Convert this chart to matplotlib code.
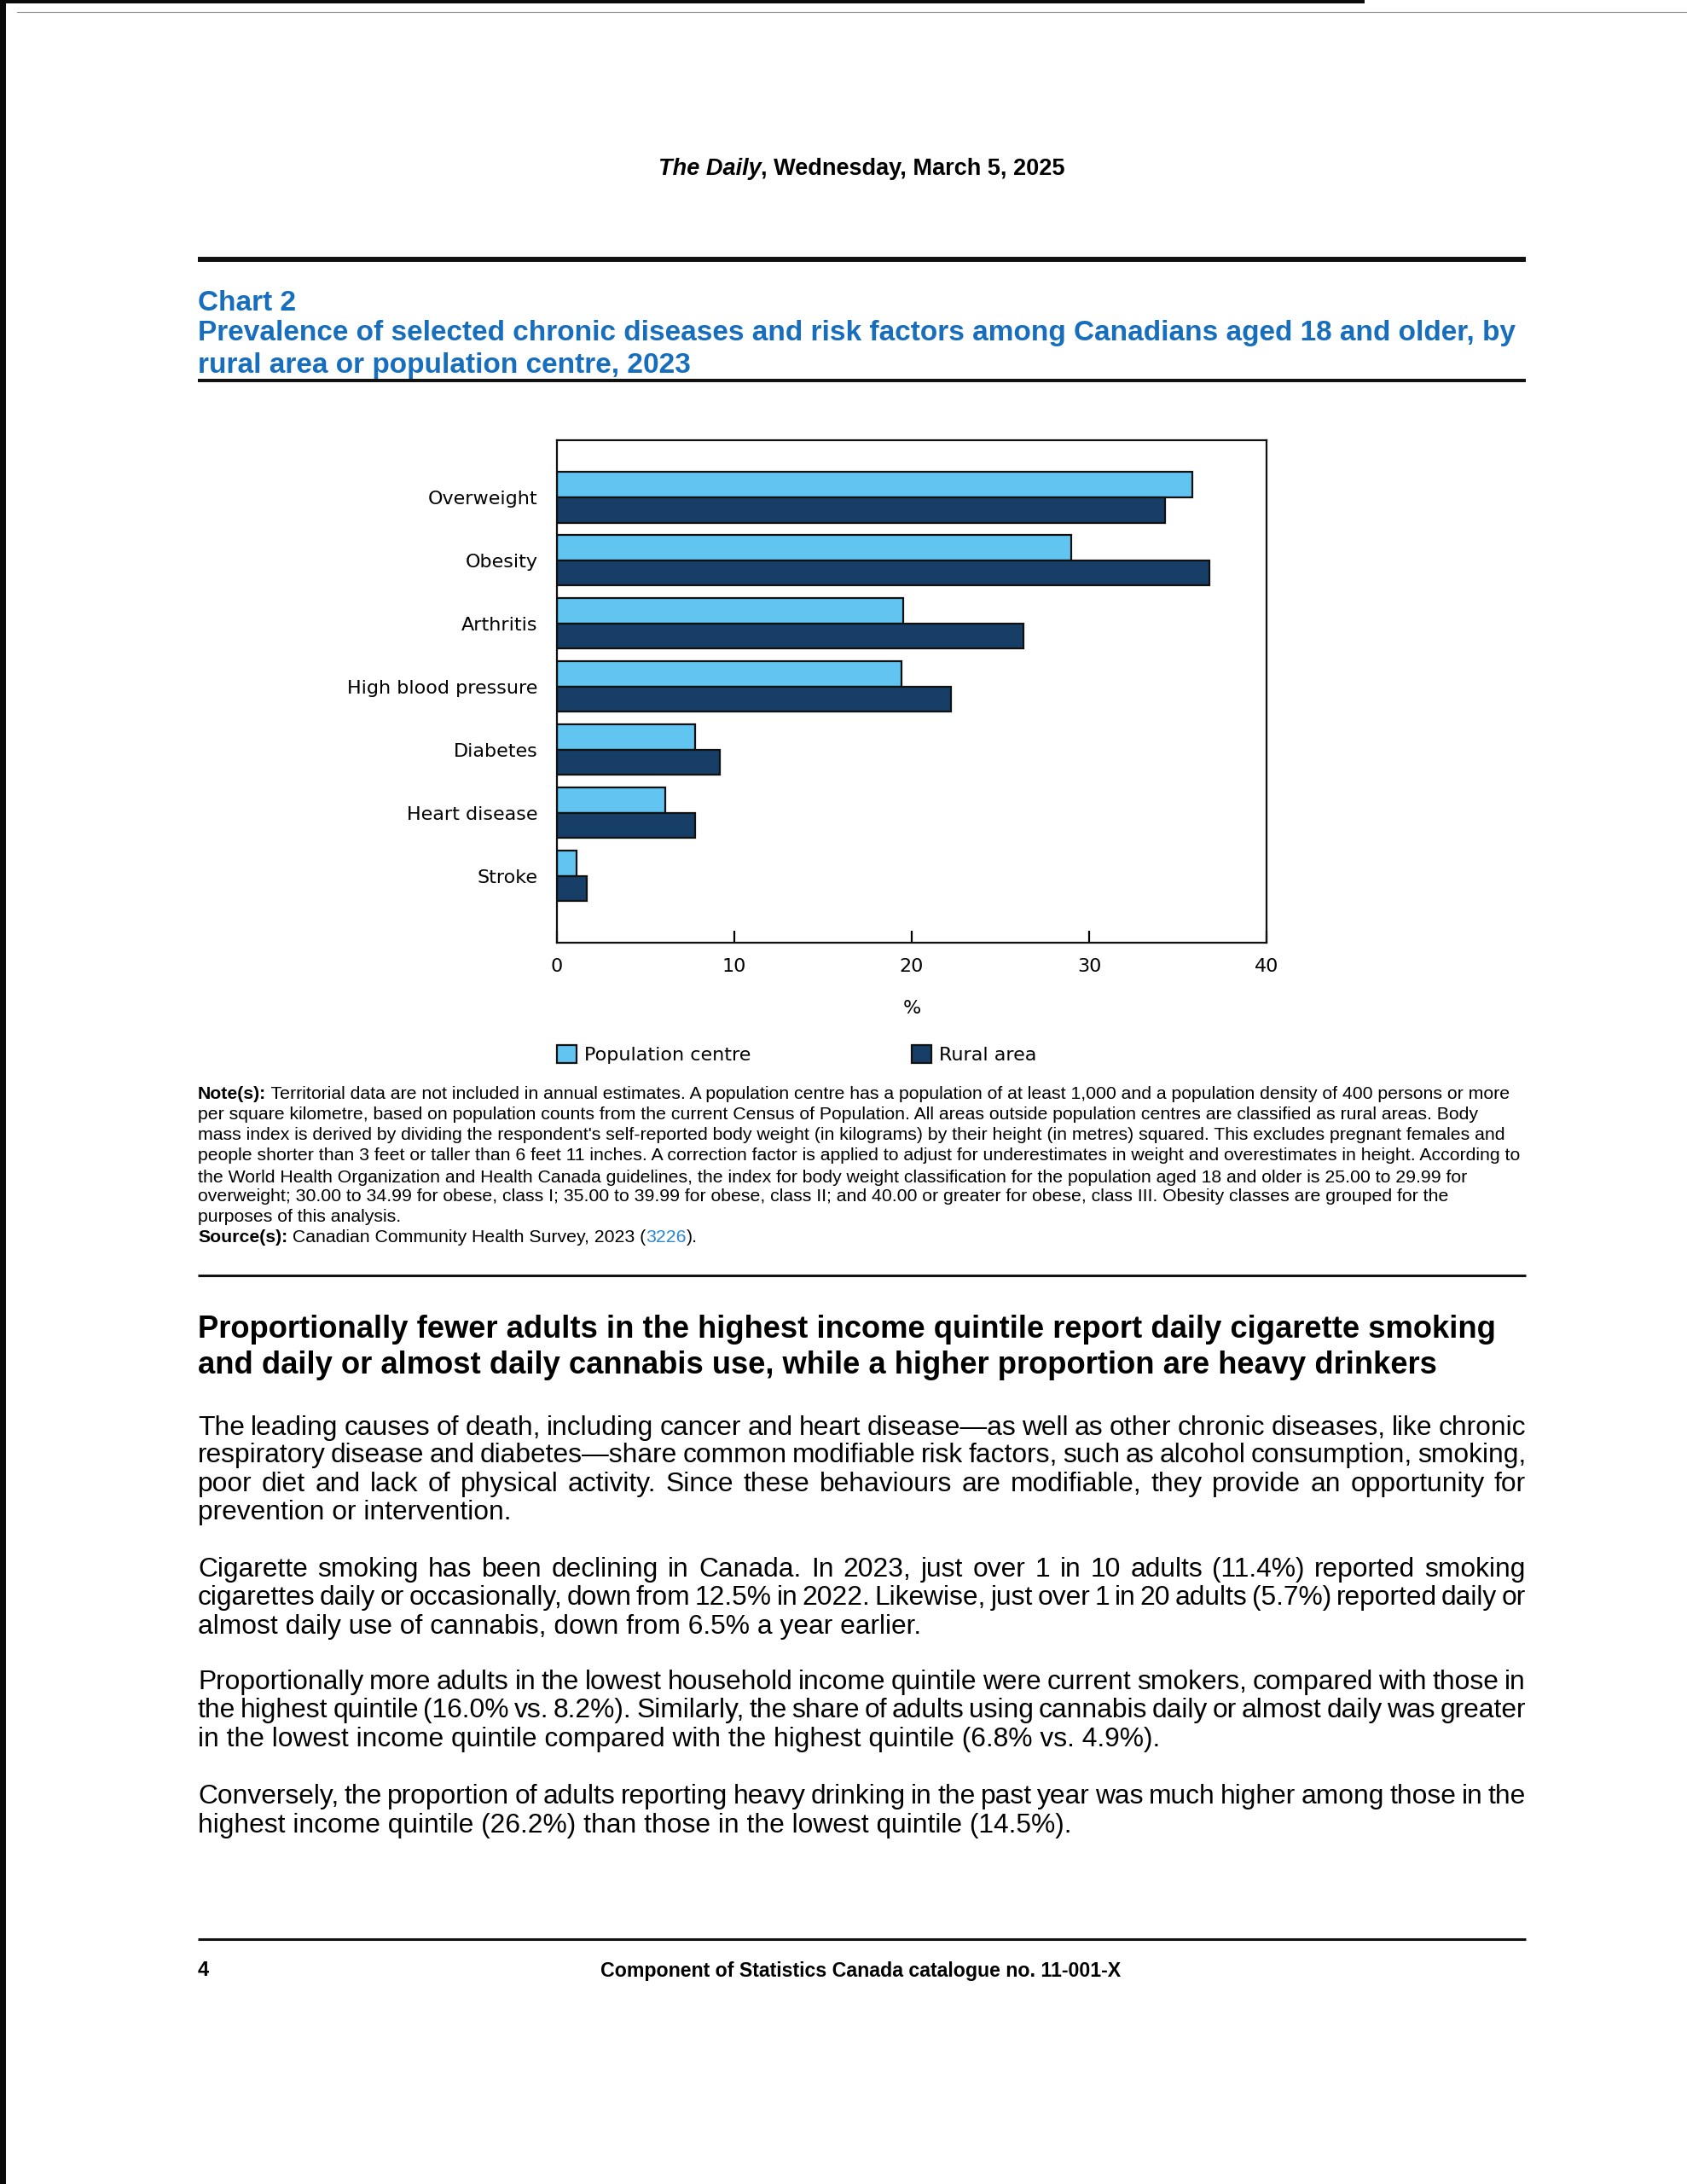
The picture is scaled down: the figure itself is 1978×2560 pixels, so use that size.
import numpy as np
import matplotlib
matplotlib.use("Agg")
import matplotlib.pyplot as plt
from matplotlib.patches import Rectangle
from matplotlib.lines import Line2D

# ---------------- data ----------------
categories = ["Overweight", "Obesity", "Arthritis", "High blood pressure",
              "Diabetes", "Heart disease", "Stroke"]
pop_centre = [35.8, 29.0, 19.5, 19.4, 7.8, 6.1, 1.1]
rural_area = [34.3, 36.8, 26.3, 22.2, 9.2, 7.8, 1.7]
series_names = ["Population centre", "Rural area"]
x_ticks = [0, 10, 20, 30, 40]

W, H = 1978, 2560
fig = plt.figure(figsize=(W / 100, H / 100), dpi=100)
fig.patch.set_facecolor("white")
R = fig.canvas.get_renderer()
DY = 4  # text vertical correction (px)


def X(px):
    return px / W


def Y(py):
    return 1 - py / H


def YT(py):
    return 1 - (py + DY) / H


def width_of(text, size, **kw):
    t = fig.text(0, 0, text, fontsize=size, **kw)
    w = t.get_window_extent(renderer=R).width
    t.remove()
    return w


def runs_width(runs, size):
    return sum(width_of(s, size, **kw) for s, kw in runs)


def draw_runs(x, y, runs, size):
    for s, kw in runs:
        fig.text(X(x), YT(y), s, fontsize=size, va="center", ha="left", **kw)
        x += width_of(s, size, **kw)


def fit(text, target, **kw):
    return 10 * target / width_of(text, 10, **kw)


def hrule(y, x0, x1, lw, color="#111111"):
    fig.add_artist(Line2D([X(x0), X(x1)], [Y(y), Y(y)], lw=lw, color=color,
                          solid_capstyle="butt"))


SANS = "Liberation Sans"

# ---------------- scan border ----------------
fig.add_artist(Rectangle((0, 0), X(7), 1, color="#0a0a0a", lw=0))
fig.add_artist(Rectangle((0, Y(4)), X(1600), 4 / H, color="#0a0a0a", lw=0))
fig.add_artist(Line2D([X(20), X(1978)], [Y(14), Y(14)], lw=0.8, color="#888888"))

# ---------------- header ----------------
hdr = [("The Daily", dict(family=SANS, weight="bold", style="italic")),
       (", Wednesday, March 5, 2025", dict(family=SANS, weight="bold"))]
hs = 10 * 477 / runs_width(hdr, 10)
draw_runs(1010 - 477 / 2, 194, hdr, hs)

hrule(304, 232, 1789, 4.3)

# ---------------- chart title ----------------
BLUE = "#176ebd"
t1 = "Prevalence of selected chronic diseases and risk factors among Canadians aged 18 and older, by"
ts = fit(t1, 1544, family=SANS, weight="bold")
for txt, yy in [("Chart 2", 351), (t1, 387), ("rural area or population centre, 2023", 424)]:
    fig.text(X(232), YT(yy), txt, fontsize=ts, family=SANS, weight="bold",
             color=BLUE, va="center", ha="left")
hrule(446, 232, 1789, 2.9)

# ---------------- chart ----------------
ax = fig.add_axes([X(653), Y(1105), (1485 - 653) / W, (1105 - 516) / H])
ypos = np.arange(len(categories))
b1 = ax.barh(ypos - 0.2, pop_centre, height=0.4, color="#62c5f1",
             edgecolor="#111111", lw=1.6, label=series_names[0])
b2 = ax.barh(ypos + 0.2, rural_area, height=0.4, color="#163e66",
             edgecolor="#111111", lw=1.6, label=series_names[1])
ax.set_xlim(0, 40)
ax.set_ylim(7.06, -0.905)
ax.set_yticks(ypos, categories)
ax.set_xticks(x_ticks, [str(v) for v in x_ticks])
for s in ax.spines.values():
    s.set_linewidth(1.6)
    s.set_color("#111111")
ax.tick_params(axis="y", length=0, pad=16, labelsize=16)
ax.tick_params(axis="x", direction="in", length=10, width=1.6, pad=13, labelsize=16)
fig.text(X(1069), YT(1178), "%", fontsize=16, ha="center", va="center")

leg_kw = dict(loc="center left", frameon=False, borderpad=0, borderaxespad=0,
              handlelength=1.05, handleheight=1.05, handletextpad=0.4, fontsize=16)
fig.legend(handles=[b1], labels=[series_names[0]], bbox_to_anchor=(X(653), Y(1236)), **leg_kw)
fig.legend(handles=[b2], labels=[series_names[1]], bbox_to_anchor=(X(1069), Y(1236)), **leg_kw)

# ---------------- notes ----------------
NB = dict(family=SANS, weight="bold")
NR = dict(family=SANS)
notes = [
    [("Note(s):", NB), (" Territorial data are not included in annual estimates. A population centre has a population of at least 1,000 and a population density of 400 persons or more", NR)],
    [("per square kilometre, based on population counts from the current Census of Population. All areas outside population centres are classified as rural areas. Body", NR)],
    [("mass index is derived by dividing the respondent's self-reported body weight (in kilograms) by their height (in metres) squared. This excludes pregnant females and", NR)],
    [("people shorter than 3 feet or taller than 6 feet 11 inches. A correction factor is applied to adjust for underestimates in weight and overestimates in height. According to", NR)],
    [("the World Health Organization and Health Canada guidelines, the index for body weight classification for the population aged 18 and older is 25.00 to 29.99 for", NR)],
    [("overweight; 30.00 to 34.99 for obese, class I; 35.00 to 39.99 for obese, class II; and 40.00 or greater for obese, class III. Obesity classes are grouped for the", NR)],
    [("purposes of this analysis.", NR)],
    [("Source(s):", NB), (" Canadian Community Health Survey, 2023 (", NR),
     ("3226", dict(family=SANS, color="#2b86d6")), (").", NR)],
]
note_y = [1278, 1302, 1327, 1351, 1376, 1399, 1423, 1446]
ns = 10 * 1554 / runs_width(notes[3], 10)
for runs, yy in zip(notes, note_y):
    draw_runs(232, yy, runs, ns)

hrule(1495, 232, 1789, 2.2)

# ---------------- headline ----------------
h1 = "Proportionally fewer adults in the highest income quintile report daily cigarette smoking"
h2 = "and daily or almost daily cannabis use, while a higher proportion are heavy drinkers"
hls = fit(h1, 1524, family=SANS, weight="bold")
for txt, yy in [(h1, 1555), (h2, 1596)]:
    fig.text(X(232), YT(yy), txt, fontsize=hls, family=SANS, weight="bold",
             va="center", ha="left")

# ---------------- body ----------------
paras = [
    (["The leading causes of death, including cancer and heart disease\u2014as well as other chronic diseases, like chronic",
      "respiratory disease and diabetes\u2014share common modifiable risk factors, such as alcohol consumption, smoking,",
      "poor diet and lack of physical activity. Since these behaviours are modifiable, they provide an opportunity for",
      "prevention or intervention."], [1670, 1702, 1736, 1769]),
    (["Cigarette smoking has been declining in Canada. In 2023, just over 1 in 10 adults (11.4%) reported smoking",
      "cigarettes daily or occasionally, down from 12.5% in 2022. Likewise, just over 1 in 20 adults (5.7%) reported daily or",
      "almost daily use of cannabis, down from 6.5% a year earlier."], [1836, 1869, 1903]),
    (["Proportionally more adults in the lowest household income quintile were current smokers, compared with those in",
      "the highest quintile (16.0% vs. 8.2%). Similarly, the share of adults using cannabis daily or almost daily was greater",
      "in the lowest income quintile compared with the highest quintile (6.8% vs. 4.9%)."], [1968, 2001, 2035]),
    (["Conversely, the proportion of adults reporting heavy drinking in the past year was much higher among those in the",
      "highest income quintile (26.2%) than those in the lowest quintile (14.5%)."], [2102, 2136]),
]
bs = fit("almost daily use of cannabis, down from 6.5% a year earlier.", 850, family=SANS)
LEFT, RIGHT = 232, 1789
for lines, ys in paras:
    for i, (line, yy) in enumerate(zip(lines, ys)):
        if i == len(lines) - 1:
            fig.text(X(LEFT), YT(yy), line, fontsize=bs, family=SANS, va="center", ha="left")
        else:
            words = line.split(" ")
            ws = [width_of(w, bs, family=SANS) for w in words]
            gap = (RIGHT - LEFT - sum(ws)) / (len(words) - 1)
            x = LEFT
            for w, ww in zip(words, ws):
                fig.text(X(x), YT(yy), w, fontsize=bs, family=SANS, va="center", ha="left")
                x += ww + gap

# ---------------- footer ----------------
hrule(2273, 232, 1789, 2.2)
fig.text(X(232), YT(2306), "4", fontsize=17, family=SANS, weight="bold", va="center", ha="left")
ft = "Component of Statistics Canada catalogue no. 11-001-X"
fs = fit(ft, 609, family=SANS, weight="bold")
fig.text(X(1009), YT(2306), ft, fontsize=fs, family=SANS, weight="bold", va="center", ha="center")

fig.savefig("out.png", dpi=100, facecolor="white")
